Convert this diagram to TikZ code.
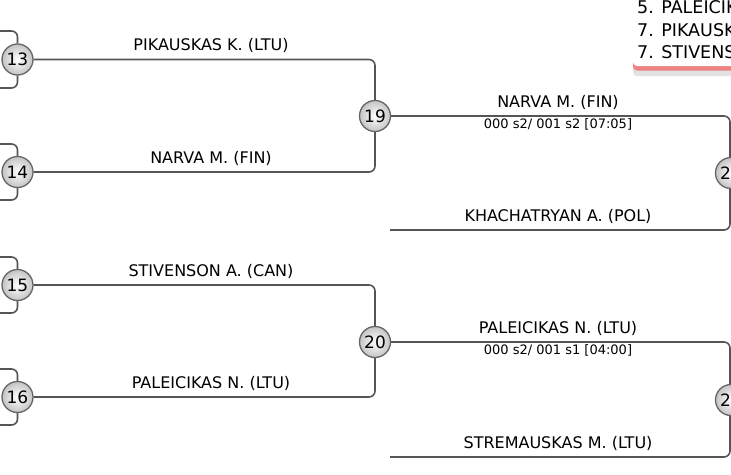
\documentclass[tikz,border=0pt]{standalone}
\usepackage{fontspec}
\setmainfont{DejaVu Sans}
\definecolor{lineg}{HTML}{555555}
\definecolor{circg}{HTML}{666666}
\definecolor{circfill}{HTML}{C4C4C4}
\definecolor{redl}{HTML}{EE8282}
\definecolor{shadg}{HTML}{E2E2E2}
\begin{document}
\begin{tikzpicture}[x=1pt,y=-1pt,
  ln/.style={draw=lineg, line width=1.6pt, rounded corners=6pt},
  mt/.style={circle, draw=circg, line width=1.3pt, inner sep=0pt, minimum size=31pt,
    inner color=white, outer color=circfill, font=\fontsize{17}{17}\selectfont},
  lbl/.style={font=\fontsize{16}{18}\selectfont, inner sep=0pt, anchor=base},
  sml/.style={font=\fontsize{13}{14}\selectfont, inner sep=0pt, anchor=base},
  leg/.style={font=\fontsize{17.5}{18}\selectfont, inner sep=0pt, anchor=base west}
]
\useasboundingbox (0,0) rectangle (731,474);
\clip (0,0) rectangle (731,474);
% match circles
\node[mt] (m13) at (17.5,59.5) {13};
\node[mt] (m14) at (17.5,172) {14};
\node[mt] (m15) at (17.5,285) {15};
\node[mt] (m16) at (17.5,397) {16};
\node[mt] (m19) at (375,116) {19};
\node[mt] (m20) at (375,342) {20};
\node[mt] (m21) at (731,173) {21};
\node[mt] (m22) at (731,400) {22};
% earlier-round feeds
\coordinate (a13) at (0,31);  \coordinate (b13) at (0,88);
\coordinate (a14) at (0,144); \coordinate (b14) at (0,200);
\coordinate (a15) at (0,257); \coordinate (b15) at (0,313);
\coordinate (a16) at (0,369); \coordinate (b16) at (0,425);
\draw[ln] (a13) -| (m13.north); \draw[ln] (b13) -| (m13.south);
\draw[ln] (a14) -| (m14.north); \draw[ln] (b14) -| (m14.south);
\draw[ln] (a15) -| (m15.north); \draw[ln] (b15) -| (m15.south);
\draw[ln] (a16) -| (m16.north); \draw[ln] (b16) -| (m16.south);
% connectors
\draw[ln] (m13.east) -| (m19.north);
\draw[ln] (m14.east) -| (m19.south);
\draw[ln] (m15.east) -| (m20.north);
\draw[ln] (m16.east) -| (m20.south);
\draw[ln] (m19.east) -| ([xshift=-1pt]m21.north);
\draw[ln] (m20.east) -| ([xshift=-1pt]m22.north);
\coordinate (k21) at (390,230);
\coordinate (k22) at (390,457);
\draw[ln] (k21) -| ([xshift=-1pt]m21.south);
\draw[ln] (k22) -| ([xshift=-1pt]m22.south);
% labels
\node[lbl] (t13) at (211,50.5) {PIKAUSKAS K. (LTU)};
\node[lbl] (t14) at (211,163) {NARVA M. (FIN)};
\node[lbl] (t15) at (211,276) {STIVENSON A. (CAN)};
\node[lbl] (t16) at (211,388.5) {PALEICIKAS N. (LTU)};
\node[lbl] (t19) at (558,107.5) {NARVA M. (FIN)};
\node[sml] (s19) at (558,128) {000 s2/ 001 s2 [07:05]};
\node[lbl] (k21t) at (558,221) {KHACHATRYAN A. (POL)};
\node[lbl] (t20) at (558,333.5) {PALEICIKAS N. (LTU)};
\node[sml] (s20) at (558,354) {000 s2/ 001 s1 [04:00]};
\node[lbl] (k22t) at (558,448) {STREMAUSKAS M. (LTU)};
% legend
\fill[shadg, rounded corners=4pt] (633,-10) rectangle (760,76);
\fill[redl, rounded corners=4pt] (633,-10) rectangle (760,70.5);
\fill[white, rounded corners=4pt] (633,-10) rectangle (760,66);
\node[leg] (l1) at (637,13) {5. PALEICIKAS N. (LTU)};
\node[leg] (l2) at (637,36) {7. PIKAUSKAS K. (LTU)};
\node[leg] (l3) at (637,58.5) {7. STIVENSON A. (CAN)};
\end{tikzpicture}
\end{document}
